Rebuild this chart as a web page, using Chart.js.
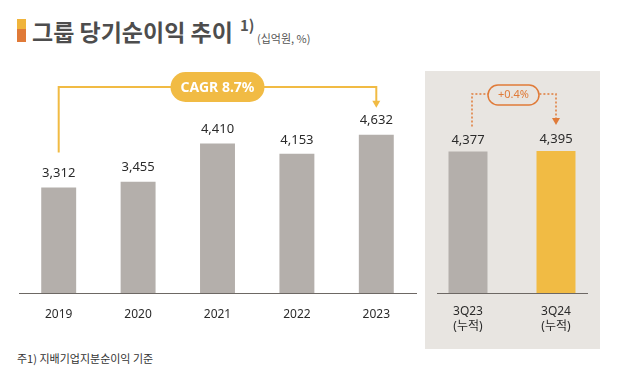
<!DOCTYPE html>
<html>
<head>
<meta charset="utf-8">
<script src="https://cdn.jsdelivr.net/npm/chart.js@4"></script>
<style>
  body { margin: 0; width: 625px; height: 385px; overflow: hidden; position: relative; background: #fff;
         font-family: "Noto Sans CJK KR", "Noto Sans", sans-serif; }
  .mark { position: absolute; left: 17px; top: 19px; width: 9px; height: 23px;
          background: linear-gradient(#f0b43c 0, #f0b43c 45%, #e07a38 45%, #e07a38 100%); }
  .title { position: absolute; left: 32px; top: 18px; font-size: 23px; font-weight: bold; color: #4d4d4d;
           line-height: 26px; white-space: nowrap; }
  .sup { position: absolute; left: 240px; top: 16px; font-size: 15px; font-weight: 600; color: #555; line-height: 18px; }
  .unit { position: absolute; left: 257px; top: 31px; font-size: 11px; color: #555; line-height: 14px; }
  .note { position: absolute; left: 17px; top: 351px; font-size: 11px; color: #333; line-height: 14px; }
  .panel { position: absolute; left: 425px; top: 71px; width: 175px; height: 278px; background: #e8e5e1; }
  #left { position: absolute; left: 0; top: 0; }
  #right { position: absolute; left: 424px; top: 0; }
</style>
</head>
<body>
<div class="mark"></div>
<div class="title">그룹 당기순이익 추이</div>
<div class="sup">1)</div>
<div class="unit">(십억원, %)</div>
<div class="panel"></div>
<canvas id="left" width="425" height="340"></canvas>
<canvas id="right" width="176" height="349"></canvas>
<div class="note">주1) 지배기업지분순이익 기준</div>
<script>
const years = ['2019', '2020', '2021', '2022', '2023'];
const yearProfit = [3312, 3455, 4410, 4153, 4632];
const quarters = [['3Q23', '(누적)'], ['3Q24', '(누적)']];
const quarterProfit = [4377, 4395];
const cagrText = 'CAGR 8.7%';
const growthText = '+0.4%';

const FONT = '"Noto Sans", "Noto Sans CJK KR", sans-serif';
const GREY = '#b4afab';
const GOLD = '#f1bb44';
const ORANGE = '#e07b39';

// numbers above bars
const valueLabels = {
  id: 'valueLabels',
  afterDatasetsDraw(chart, args, opts) {
    const ctx = chart.ctx;
    const meta = chart.getDatasetMeta(0);
    const vals = chart.data.datasets[0].data;
    ctx.save();
    ctx.font = '13px ' + FONT;
    ctx.fillStyle = '#2b2b2b';
    ctx.textAlign = 'center';
    ctx.textBaseline = 'middle';
    meta.data.forEach((bar, i) => {
      ctx.fillText(vals[i].toLocaleString('en-US'), bar.x, bar.y - opts.gap);
    });
    ctx.restore();
  }
};

function arrowHead(ctx, x, tip, color) {
  ctx.fillStyle = color;
  ctx.beginPath();
  ctx.moveTo(x - 4, tip - 7);
  ctx.lineTo(x + 4, tip - 7);
  ctx.lineTo(x, tip);
  ctx.closePath();
  ctx.fill();
}

const cagrArrow = {
  id: 'cagrArrow',
  afterDraw(chart) {
    const ctx = chart.ctx;
    const bars = chart.getDatasetMeta(0).data;
    const a = bars[0], b = bars[bars.length - 1], mid = bars[2];
    const lineY = chart.chartArea.top + 27;
    ctx.save();
    ctx.strokeStyle = GOLD;
    ctx.lineWidth = 2;
    ctx.beginPath();
    ctx.moveTo(a.x, a.y - 35);
    ctx.lineTo(a.x, lineY);
    ctx.lineTo(b.x, lineY);
    ctx.lineTo(b.x, b.y - 32);
    ctx.stroke();
    arrowHead(ctx, b.x, b.y - 27, GOLD);
    ctx.fillStyle = GOLD;
    ctx.beginPath();
    ctx.roundRect(mid.x - 47, lineY - 15, 94, 30, 15);
    ctx.fill();
    ctx.fillStyle = '#fff';
    ctx.font = 'bold 14px ' + FONT;
    ctx.textAlign = 'center';
    ctx.textBaseline = 'middle';
    ctx.fillText(cagrText, mid.x, lineY + 1);
    ctx.restore();
  }
};

const growthArrow = {
  id: 'growthArrow',
  beforeDatasetsDraw(chart) {
    const ctx = chart.ctx;
    const area = chart.chartArea;
    ctx.save();
    ctx.strokeStyle = '#6d6864';
    ctx.lineWidth = 1;
    ctx.beginPath();
    ctx.moveTo(area.left + 13, area.bottom + 0.5);
    ctx.lineTo(area.right - 12, area.bottom + 0.5);
    ctx.stroke();
    ctx.restore();
  },
  afterDraw(chart) {
    const ctx = chart.ctx;
    const bars = chart.getDatasetMeta(0).data;
    const a = bars[0], b = bars[1];
    const lineY = chart.chartArea.top + 34;
    const cx = (a.x + b.x) / 2 + 1.5;
    ctx.save();
    ctx.strokeStyle = ORANGE;
    ctx.lineWidth = 1.5;
    ctx.setLineDash([2, 2]);
    ctx.beginPath();
    ctx.moveTo(a.x + 4, a.y - 25);
    ctx.lineTo(a.x + 4, lineY);
    ctx.lineTo(b.x, lineY);
    ctx.lineTo(b.x, b.y - 32);
    ctx.stroke();
    ctx.setLineDash([]);
    arrowHead(ctx, b.x, b.y - 26, ORANGE);
    ctx.fillStyle = '#e8e5e1';
    ctx.beginPath();
    ctx.roundRect(cx - 25.5, lineY - 9, 51, 20, 10);
    ctx.fill();
    ctx.stroke();
    ctx.fillStyle = ORANGE;
    ctx.font = '11px ' + FONT;
    ctx.textAlign = 'center';
    ctx.textBaseline = 'middle';
    ctx.fillText(growthText, cx, lineY + 1);
    ctx.restore();
  }
};

new Chart(document.getElementById('left'), {
  type: 'bar',
  data: {
    labels: years,
    datasets: [{ data: yearProfit, backgroundColor: GREY, barPercentage: 0.44, categoryPercentage: 1 }]
  },
  options: {
    responsive: false,
    animation: false,
    layout: { padding: { top: 60, left: 19, right: 9, bottom: 12.6 } },
    plugins: { legend: { display: false }, tooltip: { enabled: false }, valueLabels: { gap: 14 } },
    scales: {
      x: {
        grid: { display: false },
        border: { display: true, color: '#6d6864', width: 1 },
        ticks: { padding: 6, color: '#2b2b2b', font: { family: FONT, size: 12, lineHeight: 1.2 } }
      },
      y: { display: false, min: 670, max: 6500 }
    }
  },
  plugins: [valueLabels, cagrArrow]
});

new Chart(document.getElementById('right'), {
  type: 'bar',
  data: {
    labels: quarters,
    datasets: [{ data: quarterProfit, backgroundColor: [GREY, GOLD], barPercentage: 0.443, categoryPercentage: 1 }]
  },
  options: {
    responsive: false,
    animation: false,
    layout: { padding: { top: 60, left: 0, right: 0, bottom: 12 } },
    plugins: { legend: { display: false }, tooltip: { enabled: false }, valueLabels: { gap: 11.5 } },
    scales: {
      x: {
        grid: { display: false },
        border: { display: false },
        ticks: { padding: 3, color: '#2b2b2b', font: { family: FONT, size: 12, lineHeight: 1.25 } }
      },
      y: { display: false, min: 839, max: 6669 }
    }
  },
  plugins: [valueLabels, growthArrow]
});
</script>
</body>
</html>
